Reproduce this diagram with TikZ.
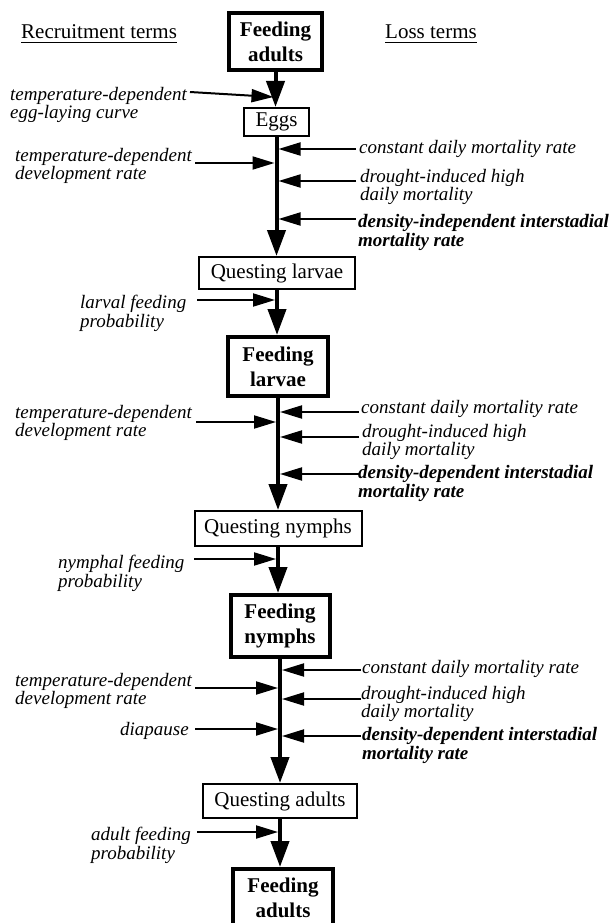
\documentclass[tikz,border=0pt]{standalone}
\usepackage{fontspec}
\setmainfont{Liberation Serif}
\usetikzlibrary{arrows.meta}
\begin{document}
\begin{tikzpicture}[x=1pt,y=-1pt,
  box/.style={draw, line width=2pt, inner sep=0pt, font=\fontsize{21}{25}\selectfont, align=center},
  thickbox/.style={draw, line width=4pt, inner sep=0pt, font=\fontsize{21}{25}\selectfont\bfseries, align=center},
  lbl/.style={inner sep=0pt, anchor=north west, align=left, font=\fontsize{19}{18.5}\selectfont\itshape},
  blbl/.style={inner sep=0pt, anchor=north west, align=left, font=\fontsize{19}{19.5}\selectfont\bfseries\itshape},
  headlbl/.style={inner sep=0pt, anchor=base west, font=\fontsize{21}{25}\selectfont},
  spine/.style={line width=4pt, -{Triangle[length=26pt,width=18pt]}},
  side/.style={line width=2pt, -{Triangle[length=22pt,width=13pt]}},
  uline/.style={line width=1.3pt},
]
\useasboundingbox (0,0) rectangle (609,923);
\clip (0,0) rectangle (609,923);
\fill[white] (0,0) rectangle (609,923);

% headers
\node[headlbl] (rt) at (21,39) {Recruitment terms};
\node[headlbl] (lt) at (385,39) {Loss terms};
\draw[uline] ([yshift=-3.5pt]rt.base west) -- ([yshift=-3.5pt]rt.base east);
\draw[uline] ([yshift=-3.5pt]lt.base west) -- ([yshift=-3.5pt]lt.base east);

% stage boxes
\node[thickbox, minimum width=93pt, minimum height=57pt] (fa1) at (275.5,41.5) {Feeding\\adults};
\node[box, minimum width=65pt, minimum height=28pt] (eggs) at (276.5,122) {Eggs};
\node[box, minimum width=156pt, minimum height=32pt] (ql) at (277,273) {Questing larvae};
\node[thickbox, minimum width=100pt, minimum height=59pt] (fl) at (278,366.5) {Feeding\\larvae};
\node[box, minimum width=167pt, minimum height=35pt] (qn) at (278,528.5) {Questing nymphs};
\node[thickbox, minimum width=99pt, minimum height=62pt] (fn) at (280,626) {Feeding\\nymphs};
\node[box, minimum width=154pt, minimum height=34pt] (qa) at (280,801) {Questing adults};
\node[thickbox, minimum width=100pt, minimum height=57pt] (fa2) at (283,897.5) {Feeding\\adults};

% spine
\draw[spine] (fa1.south) -- (fa1.south |- eggs.north);
\draw[spine] (eggs.south) -- (eggs.south |- ql.north);
\draw[spine] (ql.south) -- (ql.south |- fl.north);
\draw[spine] (fl.south) -- (fl.south |- qn.north);
\draw[spine] (qn.south) -- (qn.south |- fn.north);
\draw[spine] (fn.south) -- (fn.south |- qa.north);
\draw[spine] (qa.south) -- (qa.south |- fa2.north);

% left labels
\node[lbl] (l1) at (10,87) {temperature-dependent\\egg-laying curve};
\node[lbl] (l2) at (15,148) {temperature-dependent\\development rate};
\node[lbl] (l3) at (80,295) {larval feeding\\probability};
\node[lbl] (l4) at (15,405) {temperature-dependent\\development rate};
\node[lbl] (l5) at (58,555) {nymphal feeding\\probability};
\node[lbl] (l6) at (15,673) {temperature-dependent\\development rate};
\node[lbl] (l7) at (120,722) {diapause};
\node[lbl] (l8) at (91,827) {adult feeding\\probability};

% right labels
\node[lbl] (r1) at (359,140) {constant daily mortality rate};
\node[lbl] (r2) at (360,169) {drought-induced high\\daily mortality};
\node[blbl] (r3) at (358,214) {density-independent interstadial\\mortality rate};
\node[lbl] (r4) at (361,400) {constant daily mortality rate};
\node[lbl] (r5) at (362,424) {drought-induced high\\daily mortality};
\node[blbl] (r6) at (358,465) {density-dependent interstadial\\mortality rate};
\node[lbl] (r7) at (362,660) {constant daily mortality rate};
\node[lbl] (r8) at (361,686) {drought-induced high\\daily mortality};
\node[blbl] (r9) at (362,727) {density-dependent interstadial\\mortality rate};

% arrow tails
\coordinate (a1) at (190,92);
\coordinate (a2) at (195,163);
\coordinate (a3) at (197,300);
\coordinate (a4) at (196,422);
\coordinate (a5) at (194,559);
\coordinate (a6) at (195,688);
\coordinate (a7) at (195,729);
\coordinate (a8) at (197,832);
\coordinate (b1) at (356,149);
\coordinate (b2) at (356,181);
\coordinate (b3) at (356,219);
\coordinate (b4) at (359,412);
\coordinate (b5) at (359,437);
\coordinate (b6) at (359,474);
\coordinate (b7) at (361,670);
\coordinate (b8) at (361,699);
\coordinate (b9) at (361,736);
\coordinate (t1) at (273.5,97);

% recruitment arrows
\draw[side] (a1) -- (t1);
\draw[side] (a2) -- ([xshift=-2pt]a2 -| eggs.south);
\draw[side] (a3) -- ([xshift=-2pt]a3 -| ql.south);
\draw[side] (a4) -- ([xshift=-2pt]a4 -| fl.south);
\draw[side] (a5) -- ([xshift=-2pt]a5 -| qn.south);
\draw[side] (a6) -- ([xshift=-2pt]a6 -| fn.south);
\draw[side] (a7) -- ([xshift=-2pt]a7 -| fn.south);
\draw[side] (a8) -- ([xshift=-2pt]a8 -| qa.south);

% loss arrows
\draw[side] (b1) -- ([xshift=2pt]b1 -| eggs.south);
\draw[side] (b2) -- ([xshift=2pt]b2 -| eggs.south);
\draw[side] (b3) -- ([xshift=2pt]b3 -| eggs.south);
\draw[side] (b4) -- ([xshift=2pt]b4 -| fl.south);
\draw[side] (b5) -- ([xshift=2pt]b5 -| fl.south);
\draw[side] (b6) -- ([xshift=2pt]b6 -| fl.south);
\draw[side] (b7) -- ([xshift=2pt]b7 -| fn.south);
\draw[side] (b8) -- ([xshift=2pt]b8 -| fn.south);
\draw[side] (b9) -- ([xshift=2pt]b9 -| fn.south);
\end{tikzpicture}
\end{document}
